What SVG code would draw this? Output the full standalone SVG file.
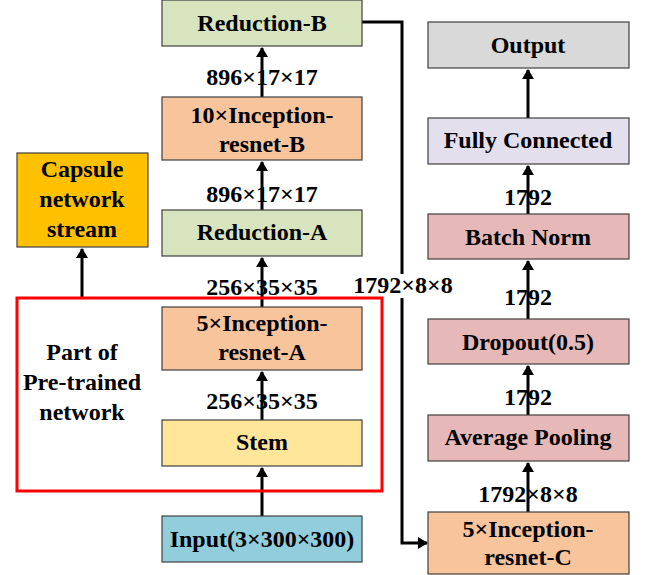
<svg xmlns="http://www.w3.org/2000/svg" width="648" height="575" viewBox="0 0 648 575">
  <style>
    .box { stroke: #404040; stroke-width: 1.2; }
    .green { fill: #d7e4bd; }
    .orange { fill: #f8c49c; }
    .yellow { fill: #ffe699; }
    .blue { fill: #92cddc; }
    .gold { fill: #ffc000; }
    .grey { fill: #d9d9d9; }
    .lilac { fill: #e4dfec; }
    .rose { fill: #e6b9b8; }
    text { font-family: Liberation Serif; font-weight: bold; font-size: 24px; fill: #000; text-anchor: middle; }
    .wire { stroke: #000; stroke-width: 3; fill: none; }
  </style>
  <defs>
    <marker id="arrow" markerWidth="10" markerHeight="12" refX="9" refY="6" orient="auto" markerUnits="userSpaceOnUse">
      <path d="M0,0 L10,6 L0,12 Z" fill="#000"/>
    </marker>
  </defs>

  <!-- connectors -->
  <g id="connectors">
    <line class="wire" x1="262" y1="516" x2="262" y2="468" marker-end="url(#arrow)"/>
    <line class="wire" x1="262" y1="420" x2="262" y2="372" marker-end="url(#arrow)"/>
    <line class="wire" x1="262" y1="307" x2="262" y2="258" marker-end="url(#arrow)"/>
    <line class="wire" x1="262" y1="210" x2="262" y2="162" marker-end="url(#arrow)"/>
    <line class="wire" x1="262" y1="97" x2="262" y2="48" marker-end="url(#arrow)"/>
    <line class="wire" x1="82" y1="298" x2="82" y2="249" marker-end="url(#arrow)"/>
    <polyline class="wire" points="362,22 402,22 402,274"/>
    <polyline class="wire" points="402,298 402,543 427,543" marker-end="url(#arrow)"/>
    <line class="wire" x1="528" y1="512" x2="528" y2="463" marker-end="url(#arrow)"/>
    <line class="wire" x1="528" y1="415" x2="528" y2="366" marker-end="url(#arrow)"/>
    <line class="wire" x1="528" y1="319" x2="528" y2="261" marker-end="url(#arrow)"/>
    <line class="wire" x1="528" y1="214" x2="528" y2="166" marker-end="url(#arrow)"/>
    <line class="wire" x1="528" y1="118" x2="528" y2="70" marker-end="url(#arrow)"/>
  </g>

  <!-- shape labels on connectors -->
  <g id="edge-labels">
    <text x="262" y="85">896×17×17</text>
    <text x="262" y="202">896×17×17</text>
    <text x="262" y="295">256×35×35</text>
    <text x="262" y="409">256×35×35</text>
    <text x="403" y="293">1792×8×8</text>
    <text x="528" y="502">1792×8×8</text>
    <text x="528" y="405">1792</text>
    <text x="528" y="305">1792</text>
    <text x="528" y="205">1792</text>
  </g>

  <!-- pre-trained region -->
  <g id="pretrained">
    <rect x="17" y="298" width="365" height="193" fill="none" stroke="#ff0000" stroke-width="3"/>
    <text x="82" y="360">Part of</text>
    <text x="82" y="390">Pre-trained</text>
    <text x="82" y="420">network</text>
  </g>

  <g id="input">
    <rect class="box blue" x="162" y="516" width="200" height="46"/>
    <text x="262" y="547">Input(3×300×300)</text>
  </g>
  <g id="stem">
    <rect class="box yellow" x="162" y="420" width="200" height="46"/>
    <text x="262" y="450">Stem</text>
  </g>
  <g id="inception-a">
    <rect class="box orange" x="162" y="307" width="200" height="63"/>
    <text x="262" y="331">5×Inception-</text>
    <text x="262" y="360">resnet-A</text>
  </g>
  <g id="reduction-a">
    <rect class="box green" x="162" y="210" width="200" height="46"/>
    <text x="262" y="240">Reduction-A</text>
  </g>
  <g id="inception-b">
    <rect class="box orange" x="162" y="97" width="200" height="63"/>
    <text x="262" y="123">10×Inception-</text>
    <text x="262" y="152">resnet-B</text>
  </g>
  <g id="reduction-b">
    <rect class="box green" x="162" y="0" width="200" height="46"/>
    <text x="262" y="31">Reduction-B</text>
  </g>
  <g id="capsule">
    <rect class="box gold" x="17" y="153" width="131" height="94"/>
    <text x="82" y="177">Capsule</text>
    <text x="82" y="207">network</text>
    <text x="82" y="237">stream</text>
  </g>

  <g id="inception-c">
    <rect class="box orange" x="428" y="512" width="201" height="62"/>
    <text x="528" y="537">5×Inception-</text>
    <text x="528" y="565">resnet-C</text>
  </g>
  <g id="avg-pool">
    <rect class="box rose" x="428" y="415" width="201" height="46"/>
    <text x="528" y="445">Average Pooling</text>
  </g>
  <g id="dropout">
    <rect class="box rose" x="428" y="319" width="201" height="45"/>
    <text x="528" y="350">Dropout(0.5)</text>
  </g>
  <g id="batch-norm">
    <rect class="box rose" x="428" y="214" width="201" height="45"/>
    <text x="528" y="245">Batch Norm</text>
  </g>
  <g id="fully-connected">
    <rect class="box lilac" x="428" y="118" width="201" height="46"/>
    <text x="528" y="148">Fully Connected</text>
  </g>
  <g id="output">
    <rect class="box grey" x="428" y="22" width="201" height="46"/>
    <text x="528" y="53">Output</text>
  </g>
</svg>
